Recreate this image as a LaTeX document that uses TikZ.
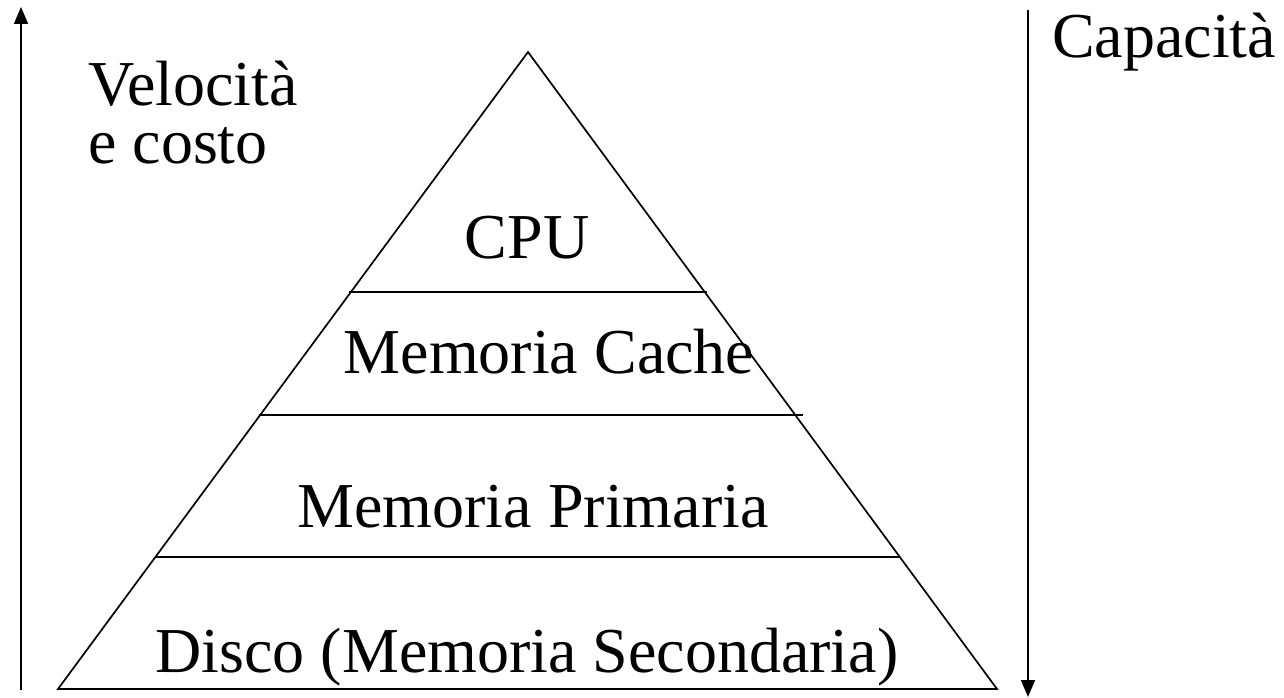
\documentclass[tikz,border=0pt]{standalone}
\usepackage{fontspec}
\setmainfont{Liberation Serif}
\usetikzlibrary{arrows.meta}
\tikzset{
  ln/.style={line width=1.7pt, black},
  axis/.style={line width=1.8pt, black, -{Triangle[length=17pt,width=14pt]}},
  lbl/.style={font=\fontsize{64}{70}\selectfont, inner sep=0pt, anchor=base},
  lbll/.style={lbl, anchor=base west},
}
\begin{document}
\begin{tikzpicture}[x=1pt,y=-1pt]
\useasboundingbox (0,0) rectangle (1284,698);
% axes
\coordinate (la0) at (21,690);
\coordinate (la1) at (21,7);
\coordinate (ra0) at (1028,10);
\coordinate (ra1) at (1028,697);
\draw[axis] (la0) -- (la1);
\draw[axis] (ra0) -- (ra1);
% pyramid
\coordinate (apex) at (528,52);
\coordinate (bl) at (58,689);
\coordinate (br) at (997,689);
\draw[ln, line join=miter] (apex) -- (bl) -- (br) -- cycle;
\coordinate (h1a) at (349,292); \coordinate (h1b) at (707,292);
\coordinate (h2a) at (259,415); \coordinate (h2b) at (803,415);
\coordinate (h3a) at (155,557); \coordinate (h3b) at (899,557);
\draw[ln] (h1a) -- (h1b);
\draw[ln] (h2a) -- (h2b);
\draw[ln] (h3a) -- (h3b);
% labels
\node[lbll] (vel) at (88,106) {Velocità};
\node[lbll] (cost) at (88,163) {e costo};
\node[lbll] (cap) at (1052,58) {Capacità};
\node[lbl] (cpu) at (527,258) {CPU};
\node[lbl] (cache) at (549,373) {Memoria Cache};
\node[lbl] (prim) at (533,527) {Memoria Primaria};
\node[lbl] (disco) at (527,672) {Disco (Memoria Secondaria)};
\end{tikzpicture}
\end{document}
